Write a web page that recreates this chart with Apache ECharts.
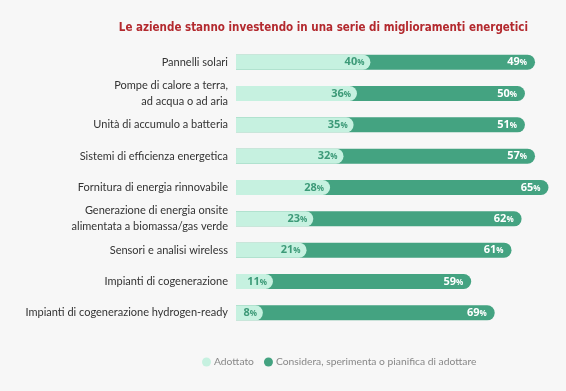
<!DOCTYPE html>
<html><head><meta charset="utf-8">
<script src="https://cdn.jsdelivr.net/npm/echarts@6/dist/echarts.min.js"></script>
<style>html,body{margin:0;padding:0;background:#f7f7f7}#c{width:566px;height:391px}</style>
</head><body><div id="c"></div>
<script>
const categories = [
  "Pannelli solari",
  "Pompe di calore a terra,\nad acqua o ad aria",
  "Unità di accumulo a batteria",
  "Sistemi di efficienza energetica",
  "Fornitura di energia rinnovabile",
  "Generazione di energia onsite\nalimentata a biomassa/gas verde",
  "Sensori e analisi wireless",
  "Impianti di cogenerazione",
  "Impianti di cogenerazione hydrogen-ready"
];
const adottato = [40, 36, 35, 32, 28, 23, 21, 11, 8];
const considera = [49, 50, 51, 57, 65, 62, 61, 59, 69];
const seriesNames = ["Adottato", "Considera, sperimenta o pianifica di adottare"];
const title = "Le aziende stanno investendo in una serie di miglioramenti energetici";

const totals = adottato.map((v, i) => v + considera[i]);
const LIGHT = '#c6f1e0', DARK = '#44a381';
const chart = echarts.init(document.getElementById('c'));
const pct = (color) => ({
  v: {fontSize: 11, fontWeight: 'bold', color: color, fontFamily: 'Open Sans'},
  p: {fontSize: 8, fontWeight: 'bold', color: color, fontFamily: 'Open Sans', padding:[2,0,0,0]}
});
chart.setOption({
  backgroundColor: '#f7f7f7',
  animation: false,
  title: {
    text: title, right: 33, top: 17,
    textStyle: {color: '#b3292e', fontSize: 11.5, fontWeight: 'bold', fontFamily: 'DejaVu Sans Condensed'}
  },
  legend: {
    left: 197, top: 352, itemWidth: 9, itemHeight: 9, itemGap: 10,
    icon: 'circle',
    textStyle: {color: '#888', fontSize: 10.3, fontFamily: 'Lato', padding:[0,0,0,-2]},
    data: [seriesNames[0], seriesNames[1]]
  },
  grid: {left: 236, top: 46.5, width: 302.4, height: 282},
  xAxis: {type: 'value', min: 0, max: 90, show: false},
  yAxis: {
    type: 'category', data: categories, inverse: true,
    axisLine: {show: false}, axisTick: {show: false},
    axisLabel: {color: '#333', fontSize: 11, fontFamily: 'Lato', margin: 8, lineHeight: 16, align: 'right'}
  },
  series: [
    {
      name: seriesNames[1], type: 'bar', data: totals, barWidth: 15, barGap: '-100%', clip: false,
      itemStyle: {color: DARK, borderRadius: [0, 8, 8, 0]},
      label: {show: true, position: 'insideRight', distance: 8,
        formatter: p => '{v|' + considera[p.dataIndex] + '}{p|%}', rich: pct('#ffffff')},
      z: 2
    },
    {
      name: seriesNames[0], type: 'bar', data: adottato, barWidth: 15, barGap: '-100%', clip: false,
      itemStyle: {color: LIGHT, borderRadius: [0, 8, 8, 0]},
      label: {show: true, position: 'insideRight', distance: 6,
        formatter: p => '{v|' + p.value + '}{p|%}', rich: pct('#3d9a78')},
      z: 3
    }
  ]
});
</script></body></html>
